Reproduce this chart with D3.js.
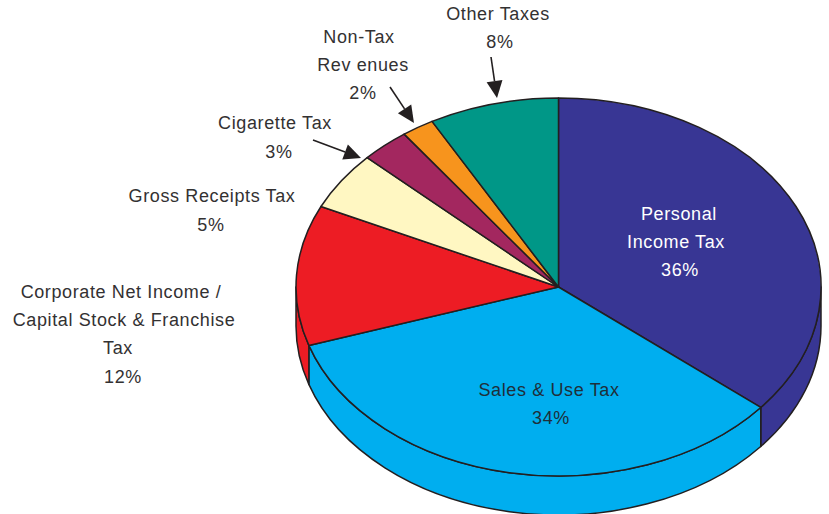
<!DOCTYPE html>
<html>
<head>
<meta charset="utf-8">
<script src="https://cdnjs.cloudflare.com/ajax/libs/d3/7.8.5/d3.min.js"></script>
<style>
  html, body { margin: 0; padding: 0; background: #fff; }
  svg { display: block; }
  text { font-family: "Liberation Sans", Arial, sans-serif; font-size: 18px; fill: #333132; text-anchor: middle; letter-spacing: 0.62px; }
  .edge { stroke: #231f20; stroke-width: 1.5; vector-effect: non-scaling-stroke; stroke-linejoin: round; }
</style>
</head>
<body>
<svg id="chart" width="829" height="514"></svg>
<script>
// Revenue shares, clockwise from twelve o'clock
const categories = ["Personal Income Tax", "Sales & Use Tax", "Corporate Net Income / Capital Stock & Franchise Tax",
                    "Gross Receipts Tax", "Cigarette Tax", "Non-Tax Revenues", "Other Taxes"];
const shares = [36, 34, 12, 5, 3, 2, 8];
const colors = ["#383694", "#00aeef", "#ed1c24", "#fff7c2", "#a3275f", "#f7941d", "#009787"];
const labelColors = ["#ffffff", "#1f2f3a", "#333132", "#333132", "#333132", "#333132", "#333132"];

// Wrapped label lines, per slice
const labelLines = [
  ["Personal", "Income Tax", "36%"],
  ["Sales & Use Tax", "34%"],
  ["Corporate Net Income /", "Capital Stock & Franchise", "Tax", "12%"],
  ["Gross Receipts Tax", "5%"],
  ["Cigarette Tax", "3%"],
  ["Non-Tax", "Rev enues", "2%"],
  ["Other Taxes", "8%"]
];
// Centre x and baseline y for each label line
const labelAnchors = [
  [[679, 220], [676, 248], [680, 276]],
  [[549, 396], [551, 424]],
  [[121, 298], [124, 326], [118, 354], [123, 383]],
  [[212, 202], [211, 231]],
  [[275, 129], [279, 158]],
  [[359, 43], [363, 71], [363, 99]],
  [[498, 20], [500, 48]]
];
// Leader arrows: tail, tip
const arrows = [
  { from: [313, 140], to: [361, 158] },
  { from: [390, 87], to: [414, 123] },
  { from: [491, 57], to: [497, 98] }
];

const cx = 558.5, cy = 287, rx = 262.5, ry = 189, depth = 39;
const svg = d3.select("#chart");

const arcs = d3.pie().sort(null).startAngle(0).endAngle(2 * Math.PI)(shares);
const arcGen = d3.arc().innerRadius(0).outerRadius(rx);

// The disc is drawn as a circle and flattened vertically
const disc = svg.append("g").attr("transform", `translate(${cx},${cy}) scale(1,${ry / rx})`);
const wallDepth = depth * rx / ry;

function wallPath(a0, a1) {
  const p = d3.path();
  p.arc(0, 0, rx, a0 - Math.PI / 2, a1 - Math.PI / 2, false);
  p.arc(0, wallDepth, rx, a1 - Math.PI / 2, a0 - Math.PI / 2, true);
  p.closePath();
  return p.toString();
}

// Rim: only the front half of the disc shows a side wall
disc.selectAll("path.wall")
  .data(arcs.filter(d => d.endAngle > Math.PI / 2 && d.startAngle < 3 * Math.PI / 2))
  .join("path")
  .attr("class", "wall edge")
  .attr("fill", d => colors[d.index])
  .attr("d", d => wallPath(Math.max(d.startAngle, Math.PI / 2), Math.min(d.endAngle, 3 * Math.PI / 2)));

disc.selectAll("path.slice")
  .data(arcs)
  .join("path")
  .attr("class", "slice edge")
  .attr("fill", d => colors[d.index])
  .attr("d", arcGen);

// Labels
labelLines.forEach((lines, i) => {
  svg.selectAll(null)
    .data(lines)
    .join("text")
    .attr("x", (d, j) => labelAnchors[i][j][0])
    .attr("y", (d, j) => labelAnchors[i][j][1])
    .style("fill", labelColors[i])
    .text(d => d);
});

// Leader arrows with solid triangular heads
const headLen = 17, headHalf = 8;
arrows.forEach(({ from, to }) => {
  const ang = Math.atan2(to[1] - from[1], to[0] - from[0]);
  const ux = Math.cos(ang), uy = Math.sin(ang);
  const bx = to[0] - ux * headLen, by = to[1] - uy * headLen;
  svg.append("line")
    .attr("x1", from[0]).attr("y1", from[1]).attr("x2", bx).attr("y2", by)
    .attr("stroke", "#231f20").attr("stroke-width", 1.6);
  svg.append("polygon")
    .attr("fill", "#231f20")
    .attr("points", [to, [bx - uy * headHalf, by + ux * headHalf], [bx + uy * headHalf, by - ux * headHalf]].join(" "));
});
</script>
</body>
</html>
